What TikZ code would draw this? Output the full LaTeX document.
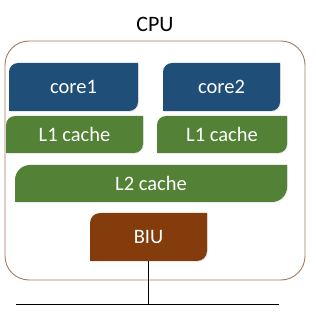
\documentclass[tikz,border=0pt]{standalone}
\usepackage{fontspec}
\setmainfont{Carlito}
\usetikzlibrary{shadows}
\definecolor{coreblue}{HTML}{1F4E79}
\definecolor{cachegreen}{HTML}{538135}
\definecolor{biubrown}{HTML}{843C0C}
\definecolor{cpuframe}{HTML}{A57A5E}
\tikzset{
  boxtext/.style={text=white,font=\fontsize{20.5}{22}\selectfont,inner sep=0pt,draw=none},
  busline/.style={draw=black,line width=0.9pt},
  softshadow/.style={drop shadow={shadow xshift=0.8pt,shadow yshift=-0.8pt,opacity=0.18,fill=gray}},
}
% #1 name, #2 x1, #3 y1, #4 x2, #5 y2, #6 colour, #7 radius, #8 text
\newcommand\leafbox[8]{%
  \fill[#6,softshadow] (#2,#5) [rounded corners=#7] -- (#2,#3) [sharp corners] -- (#4,#3)
     [rounded corners=#7] -- (#4,#5) [sharp corners] -- cycle;
  \node[boxtext,minimum width={(#4-#2)*1pt},minimum height={(#5-#3)*1pt}]
     (#1) at ({(#2+#4)/2},{(#3+#5)/2}) {#8};
}
\begin{document}
\begin{tikzpicture}[x=1pt,y=-1pt]
\useasboundingbox (0,0) rectangle (316,315);
\node[font=\fontsize{22}{24}\selectfont] (cpu) at (155,24) {CPU};
\draw[cpuframe,line width=0.9pt,rounded corners=24pt] (5,41) rectangle (305,280);
\leafbox{core1}{9}{63}{138}{111}{coreblue}{9pt}{core1}
\leafbox{core2}{163}{63}{280}{111}{coreblue}{9pt}{core2}
\leafbox{l1a}{6}{116}{143}{153}{cachegreen}{9pt}{L1 cache}
\leafbox{l1b}{157}{116}{287}{153}{cachegreen}{9pt}{L1 cache}
\leafbox{l2}{15}{165}{287}{202}{cachegreen}{15pt}{L2 cache}
\leafbox{biu}{90}{213}{207}{261}{biubrown}{10pt}{BIU}
\coordinate (busl) at (16,304);
\coordinate (busr) at (279,304);
\coordinate (tap) at (148,304);
\draw[busline] (busl) -- (busr);
\draw[busline] (biu.south -| tap) -- (tap);
\end{tikzpicture}
\end{document}
